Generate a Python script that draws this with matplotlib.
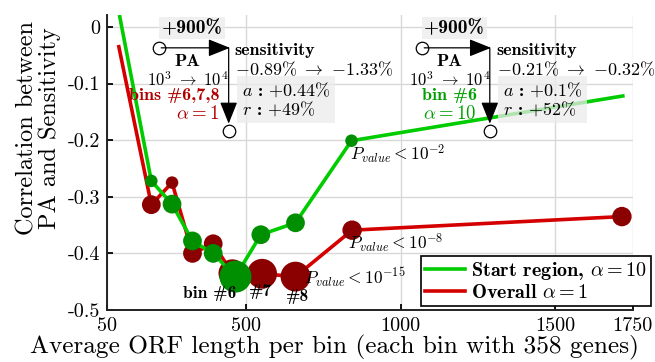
import numpy as np
import matplotlib.pyplot as plt

plt.rcParams['mathtext.fontset'] = 'cm'
plt.rcParams['font.family'] = ['cmr10', 'DejaVu Serif']
plt.rcParams['axes.unicode_minus'] = False

# data
x_start = [92, 194, 261, 327, 394, 466, 548, 660, 841, 1718]
y_start = [0.018, -0.272, -0.313, -0.378, -0.400, -0.441, -0.367, -0.346, -0.201, -0.122]
ms_start = [0, 9, 13.5, 13.5, 13.5, 23, 13.5, 13.5, 9, 0]

x_overall = [89, 194, 261, 327, 394, 456, 552, 660, 843, 1715]
y_overall = [-0.035, -0.314, -0.275, -0.400, -0.383, -0.435, -0.436, -0.441, -0.359, -0.335]
ms_overall = [0, 13.5, 9, 13.5, 13.5, 20, 21.5, 21.5, 14, 14]

xticks = [50, 500, 1000, 1500, 1750]
yticks = [-0.5, -0.4, -0.3, -0.2, -0.1, 0]
ytick_labels = ['-0.5', '-0.4', '-0.3', '-0.2', '-0.1', '0']

GREEN_LINE, GREEN_MK = '#00cc00', '#008f00'
RED_LINE, RED_MK = '#d40000', '#8b0000'
BOLD = 'cmb10'
FS = 13

fig = plt.figure(figsize=(6.55, 3.62), dpi=100)
ax = fig.add_axes([0.163, 0.1436, 0.803, 0.815])

ax.plot(x_overall, y_overall, color=RED_LINE, lw=2.6, zorder=3, label=r'Overall $\alpha = 1$')
ax.scatter(x_overall, y_overall, s=np.array(ms_overall) ** 2, color=RED_MK, zorder=4, linewidths=0)
ax.plot(x_start, y_start, color=GREEN_LINE, lw=2.6, zorder=5, label=r'Start region, $\alpha = 10$')
ax.scatter(x_start, y_start, s=np.array(ms_start) ** 2, color=GREEN_MK, zorder=6, linewidths=0)

ax.set_xlim(50, 1750)
ax.set_ylim(-0.5, 0.021)
ax.set_xticks(xticks)
ax.set_xticklabels([str(t) for t in xticks])
ax.set_yticks(yticks)
ax.set_yticklabels(ytick_labels)
ax.tick_params(direction='in', labelsize=14.5, width=1.3, length=4, pad=5)
ax.grid(True, color='#d8d8d8', lw=1.0)
ax.set_axisbelow(True)
for s in ['top', 'right']:
    ax.spines[s].set_visible(False)
for s in ['left', 'bottom']:
    ax.spines[s].set_linewidth(1.4)
    ax.spines[s].set_color('#222222')

ax.set_xlabel('Average ORF length per bin (each bin with 358 genes)', fontsize=18.2)
ax.xaxis.set_label_coords((335 - 107) / 526, -0.084)
ax.set_ylabel('Correlation between\nPA and Sensitivity', fontsize=17.5, linespacing=1.0)
ax.yaxis.set_label_coords(-0.087, 0.617)

# PA annotation groups
groups = [
    dict(x0=218, xc=444, sens=r'$\mathbf{-0.89\%}\ \rightarrow\ \mathbf{-1.33\%}$',
         ar=r'$a$ : $\mathbf{+0.44\%}$', rr=r'$r$ : $\mathbf{+49\%}$',
         lab1='bins #6,7,8', lab2=r'$\alpha = 1$', col='#b00000', ha='right', lx=414),
    dict(x0=1068, xc=1288, sens=r'$\mathbf{-0.21\%}\ \rightarrow\ \mathbf{-0.32\%}$',
         ar=r'$a$ : $\mathbf{+0.1\%}$', rr=r'$r$ : $\mathbf{+52\%}$',
         lab1='bin #6', lab2=r'$\alpha = 10$', col='#00a000', ha='center', lx=1157),
]
for g in groups:
    x0, xc = g['x0'], g['xc']
    ax.plot([x0], [-0.037], 'o', ms=9, mfc='white', mec='black', mew=0.9, zorder=8)
    ax.plot([xc], [-0.184], 'o', ms=9, mfc='white', mec='black', mew=0.9, zorder=8)
    ax.annotate('', xy=(xc + 4, -0.037), xytext=(x0 + 8, -0.037),
                arrowprops=dict(arrowstyle='-|>,head_length=0.75,head_width=0.3', color='black', lw=0.9,
                                mutation_scale=18, shrinkA=0, shrinkB=0), zorder=8)
    ax.annotate('', xy=(xc, -0.171), xytext=(xc, -0.037),
                arrowprops=dict(arrowstyle='-|>,head_length=0.75,head_width=0.3', color='black', lw=0.9,
                                mutation_scale=18, shrinkA=0, shrinkB=0), zorder=8)
    xm = (x0 + xc) / 2
    ax.text(xm - 5, -0.002, '+900%', fontfamily=BOLD, fontsize=14, ha='center', va='center',
            bbox=dict(boxstyle='square,pad=0.12', fc='#ececec', ec='none', alpha=0.75), zorder=7)
    ax.text(xm - 22, -0.061, 'PA', fontfamily=BOLD, fontsize=FS, ha='center', va='center', zorder=9)
    ax.text(xm - 20, -0.093, r'$\mathbf{10^3}\ \rightarrow\ \mathbf{10^4}$', fontsize=12, ha='center',
            va='center', zorder=9)
    ax.text(g['lx'], -0.121, g['lab1'], fontfamily=BOLD, fontsize=FS, color=g['col'], ha=g['ha'], va='center', zorder=9)
    ax.text(g['lx'], -0.154, g['lab2'], fontsize=FS + 0.5, color=g['col'], ha=g['ha'], va='center', zorder=9)
    ax.text(xc + 20, -0.041, 'sensitivity', fontfamily=BOLD, fontsize=FS, ha='left', va='center', zorder=9)
    ax.text(xc + 22, -0.075, g['sens'], fontsize=FS, ha='left', va='center', zorder=9)
    ax.text(xc + 42, -0.128, g['ar'] + '\n' + g['rr'], fontfamily=BOLD, fontsize=FS, ha='left', va='center',
            linespacing=1.05, bbox=dict(boxstyle='square,pad=0.25', fc='#ececec', ec='none', alpha=0.75), zorder=9)

# p-value and bin labels
ax.text(835, -0.225, r'$\mathit{P_{value}} < \mathbf{10^{-2}}$', fontsize=12.5, ha='left', va='center', zorder=9)
ax.text(829, -0.383, r'$\mathit{P_{value}} < \mathbf{10^{-8}}$', fontsize=12.5, ha='left', va='center', zorder=9)
ax.text(688, -0.443, r'$\mathit{P_{value}} < \mathbf{10^{-15}}$', fontsize=12.5, ha='left', va='center', zorder=9)
ax.text(383, -0.471, 'bin #6', fontfamily=BOLD, fontsize=12.5, ha='center', va='center', zorder=9)
ax.text(545, -0.467, '#7', fontfamily=BOLD, fontsize=12.5, ha='center', va='center', zorder=9)
ax.text(662, -0.477, '#8', fontfamily=BOLD, fontsize=12.5, ha='center', va='center', zorder=9)

h, l = ax.get_legend_handles_labels()
leg = ax.legend(h[::-1], l[::-1], loc='lower right', bbox_to_anchor=(651 / 655, 1 - 306 / 362),
                bbox_transform=fig.transFigure, prop={'family': BOLD, 'size': 14.5}, frameon=True,
                fancybox=False, edgecolor='black', framealpha=1, handlelength=2.0, handletextpad=0.3,
                borderpad=0.2, labelspacing=0.1, borderaxespad=0)
leg.get_frame().set_linewidth(1.2)
leg.set_zorder(10)

fig.savefig('out.png', dpi=100)
